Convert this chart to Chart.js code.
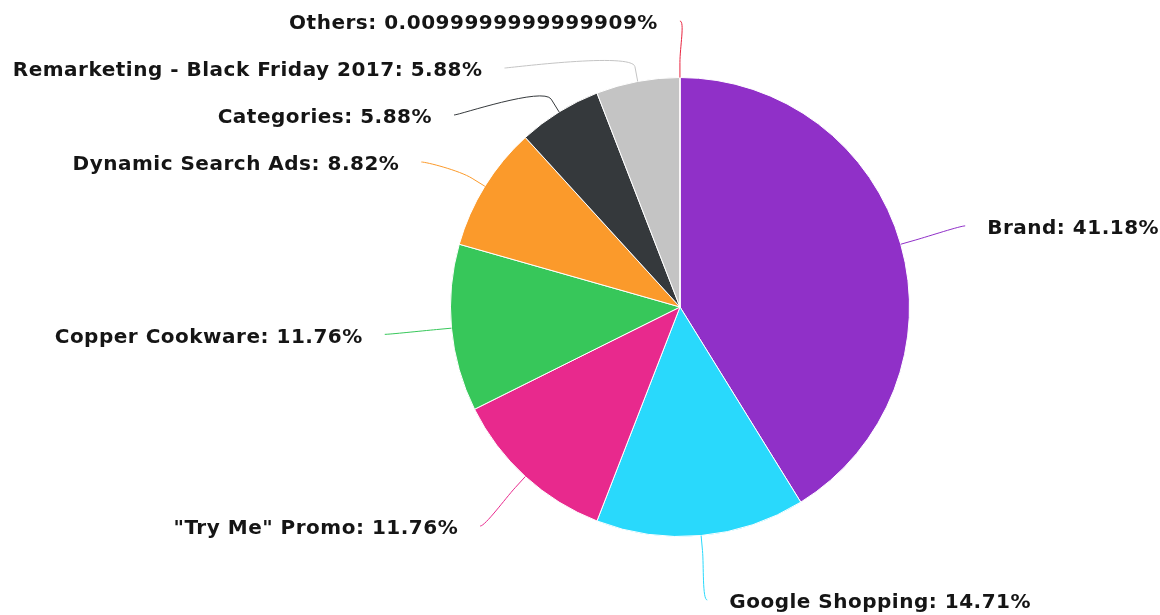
<!DOCTYPE html>
<html>
<head>
<meta charset="utf-8">
<script src="https://cdn.jsdelivr.net/npm/chart.js@4/dist/chart.umd.min.js"></script>
<style>
  html, body { margin: 0; padding: 0; background: #fff; }
  #wrap { width: 1160px; height: 615px; position: relative; }
</style>
</head>
<body>
<div id="wrap"><canvas id="pieChart"></canvas></div>
<script>
var labels = ['Brand', 'Google Shopping', '"Try Me" Promo', 'Copper Cookware',
    'Dynamic Search Ads', 'Categories', 'Remarketing - Black Friday 2017', 'Others'];
var values = [41.18, 14.71, 11.76, 11.76, 8.82, 5.88, 5.88, 0.0099999999999909];
var colors = ['#9030c8', '#29d9fc', '#e8298d', '#37c75a', '#fb9a2b', '#35393c', '#c4c4c4', '#e8243f'];

// outside labels with soft connectors, placed from the arc geometry
var outsideLabels = {
    id: 'outsideLabels',
    afterDatasetsDraw: function (chart) {
        var ctx = chart.ctx;
        var meta = chart.getDatasetMeta(0);
        var lineH = 47;
        var top = 21, bottom = chart.height - 15;
        var items = meta.data.map(function (arc, i) {
            var p = arc.getProps(['x', 'y', 'startAngle', 'endAngle', 'outerRadius'], true);
            var mid = (p.startAngle + p.endAngle) / 2;
            var L = p.outerRadius + 67;
            return {
                i: i, cx: p.x, cy: p.y, r: p.outerRadius, L: L,
                cos: Math.cos(mid), sin: Math.sin(mid),
                left: Math.cos(mid) < 0,
                natural: p.y + Math.sin(mid) * L
            };
        });
        [true, false].forEach(function (side) {
            var list = items.filter(function (it) { return it.left === side; });
            list.sort(function (a, b) { return a.natural - b.natural; });
            var k;
            for (k = 0; k < list.length; k++) {
                var y = Math.max(list[k].natural, top);
                if (k > 0) y = Math.max(y, list[k - 1].y + lineH);
                list[k].y = y;
            }
            for (k = list.length - 1; k >= 0; k--) {
                var y2 = Math.min(list[k].y, bottom);
                if (k < list.length - 1) y2 = Math.min(y2, list[k + 1].y - lineH);
                list[k].y = y2;
            }
            list.forEach(function (it) {
                var yForX = it.y;
                if ((it.y <= top && it.natural < top) || (it.y >= bottom && it.natural > bottom)) yForX = it.natural;
                var dy = Math.min(Math.abs(yForX - it.cy), it.L);
                it.x = it.cx + (it.left ? -1 : 1) * Math.sqrt(it.L * it.L - dy * dy);
            });
        });

        ctx.save();
        ctx.font = 'bold 20px "DejaVu Sans"';
        ctx.letterSpacing = '0.5px';
        ctx.textBaseline = 'middle';
        items.forEach(function (it) {
            var dir = it.left ? -1 : 1;
            var touch = { x: it.cx + it.cos * it.r, y: it.cy + it.sin * it.r };
            var brk = { x: it.cx + it.cos * (it.r + 15), y: it.cy + it.sin * (it.r + 15) };
            ctx.strokeStyle = colors[it.i];
            ctx.lineWidth = 1;
            ctx.beginPath();
            ctx.moveTo(it.x, it.y);
            ctx.bezierCurveTo(it.x - dir * 5, it.y, 2 * brk.x - touch.x, 2 * brk.y - touch.y, brk.x, brk.y);
            ctx.lineTo(touch.x, touch.y);
            ctx.stroke();

            ctx.fillStyle = '#151515';
            ctx.textAlign = it.left ? 'right' : 'left';
            ctx.fillText(labels[it.i] + ': ' + values[it.i] + '%', it.x + dir * 22, it.y + 3);
        });
        ctx.restore();
    }
};

var ctx = document.getElementById('pieChart').getContext('2d');
var myChart = new Chart(ctx, {
    type: 'pie',
    data: {
        labels: labels,
        datasets: [{
            data: values,
            backgroundColor: colors,
            borderColor: '#ffffff',
            borderWidth: 1
        }]
    },
    options: {
        responsive: true,
        maintainAspectRatio: false,
        animation: false,
        layout: {
            padding: { top: 77, bottom: 78, left: 300, right: 100 }
        },
        plugins: {
            legend: { display: false },
            tooltip: { enabled: false }
        }
    },
    plugins: [outsideLabels]
});
</script>
</body>
</html>
